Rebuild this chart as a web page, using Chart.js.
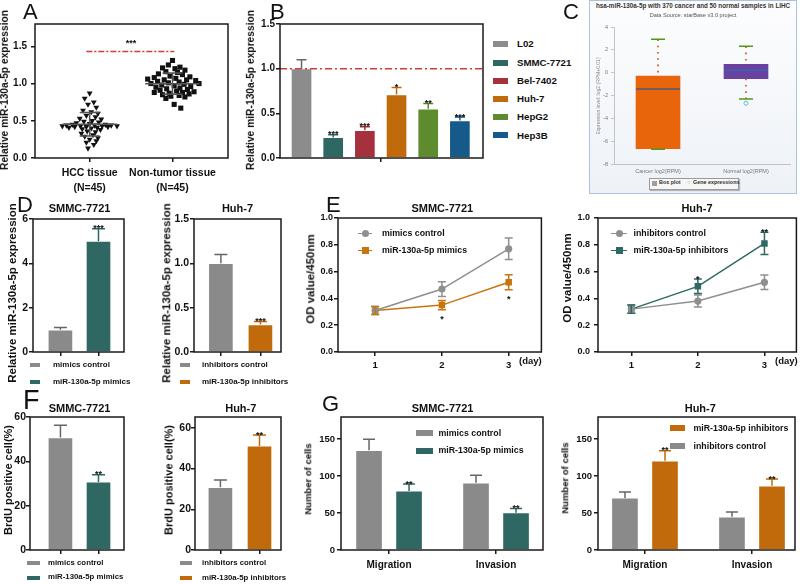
<!DOCTYPE html>
<html lang="en">
<head>
<meta charset="UTF-8">
<title>miR-130a-5p figure</title>
<script src="https://cdn.jsdelivr.net/npm/chart.js"></script>
<style>
    body {
        margin: 0;
        width: 800px;
        height: 584px;
        position: relative;
        overflow: hidden;
        background: #fff;
        font-family: 'Liberation Sans', Arial, sans-serif;
        font-weight: bold;
        color: #111;
    }
    canvas { position: absolute; }
    .t { position: absolute; white-space: nowrap; line-height: 1; }
    .sw { position: absolute; }
    .cbox {
        position: absolute; left: 589px; top: 0; width: 206px; height: 192px;
        border: 1.5px solid #a9c3de;
        background: linear-gradient(#fdfdfe, #eef2f7);
    }
    .ckey {
        position: absolute; left: 649px; top: 178px; width: 88px; height: 10px;
        border: 1px solid #9a9a9a; background: #f6f6f6; box-shadow: 1px 1px 1px #b5b5b5;
    }
</style>
</head>
<body>
<div class="cbox"></div>
<div class="ckey"></div>

<script>
// ---- A: individual tissue samples (45 each) ----
const hccValues = [0.87, 0.80, 0.75, 0.72, 0.68, 0.64, 0.62, 0.60, 0.57, 0.55, 0.53, 0.52, 0.50, 0.49, 0.48,
    0.47, 0.46, 0.45, 0.45, 0.44, 0.44, 0.44, 0.43, 0.43, 0.43, 0.43, 0.42, 0.42, 0.42, 0.41,
    0.41, 0.40, 0.39, 0.38, 0.36, 0.35, 0.33, 0.31, 0.29, 0.27, 0.25, 0.23, 0.21, 0.18, 0.13];
const hccJitter = [0, -0.06, 0.05, -0.02, 0.08, -0.08, 0.02, 0.10, -0.04, 0.07, -0.12, 0.14, 0.03, -0.07, 0.11,
    -0.16, 0, 0.19, -0.21, 0.06, -0.28, 0.26, -0.11, 0.15, -0.33, 0.33, -0.04, 0.22, -0.18, 0.09,
    -0.25, 0.02, -0.09, 0.13, -0.03, 0.07, -0.10, 0.04, -0.06, 0.10, 0, 0.08, -0.04, 0.05, -0.02];
const normalValues = [1.31, 1.25, 1.22, 1.21, 1.20, 1.18, 1.16, 1.15, 1.13, 1.12, 1.10, 1.09, 1.08, 1.07, 1.06,
    1.05, 1.05, 1.04, 1.03, 1.02, 1.01, 1.00, 1.00, 0.99, 0.98, 0.97, 0.96, 0.95, 0.94, 0.93,
    0.92, 0.91, 0.90, 0.89, 0.88, 0.88, 0.87, 0.86, 0.85, 0.84, 0.83, 0.82, 0.80, 0.72, 0.67];
const normalJitter = [0, -0.05, 0.09, -0.12, 0.03, 0.15, -0.08, 0.06, -0.17, 0.12, -0.03, 0.21, -0.22, 0.04, -0.30,
    0.17, -0.10, 0.28, -0.18, 0.08, -0.05, 0.32, -0.26, 0.14, -0.13, 0.02, 0.22, -0.20, 0.09, -0.07,
    0.18, -0.15, 0.05, 0.26, -0.22, 0.12, -0.04, 0.20, -0.12, 0.08, -0.02, 0.15, -0.08, 0.02, 0.10];
const tissueLabels = [['HCC tissue', '(N=45)'], ['Non-tumor tissue', '(N=45)']];
const tissueSigLevel = 1.43;

// ---- B: cell lines ----
const cellLines = ['L02', 'SMMC-7721', 'Bel-7402', 'Huh-7', 'HepG2', 'Hep3B'];
const cellExpr = [1.00, 0.23, 0.31, 0.71, 0.55, 0.42];
const cellErr = [0.10, 0.03, 0.04, 0.08, 0.06, 0.04];
const cellStars = ['', '***', '***', '*', '**', '***'];
const cellColors = ['#8c8c8c', '#2f6763', '#a7303d', '#c06a0c', '#5e8b2d', '#155a88'];

// ---- C: starBase box plot ----
const boxGroups = ['Cancer log2(RPM)', 'Normal log2(RPM)'];
const boxLow = [-6.70, -2.30];
const boxQ1 = [-6.66, -0.53];
const boxMid = [-1.43, 0.21];
const boxQ3 = [-0.29, 0.73];
const boxHigh = [2.92, 2.31];
const boxOutlier = [null, -2.68];
const boxColors = ['#e8650c', '#6a40a0'];
const boxMidColors = ['#4d5a78', '#2c6aa8'];
const boxTicks = [4, 2, 0, -2, -4, -6, -8];

// ---- D: qPCR after transfection ----
const mimicGroups = ['mimics control', 'miR-130a-5p mimics'];
const mimicExpr = [1.00, 5.00];
const mimicExprErr = [0.11, 0.56];
const inhibGroups = ['inhibitors control', 'miR-130a-5p inhibitors'];
const inhibExpr = [1.00, 0.31];
const inhibExprErr = [0.10, 0.035];

// ---- E: CCK-8 ----
const days = [1, 2, 3];
const odMimicCtrl = [0.31, 0.47, 0.77];
const odMimicCtrlErr = [0.03, 0.055, 0.08];
const odMimic = [0.31, 0.35, 0.52];
const odMimicErr = [0.03, 0.035, 0.056];
const odMimicStars = ['', '*', '*'];
const odInhibCtrl = [0.32, 0.38, 0.52];
const odInhibCtrlErr = [0.03, 0.045, 0.054];
const odInhib = [0.32, 0.49, 0.81];
const odInhibErr = [0.03, 0.054, 0.083];
const odInhibStars = ['', '*', '**'];

// ---- F: BrdU ----
const brduMimic = [50.7, 30.7];
const brduMimicErr = [5.6, 3.3];
const brduInhib = [30.8, 51.1];
const brduInhibErr = [3.6, 5.4];

// ---- G: transwell ----
const assays = ['Migration', 'Invasion'];
const cellsMimicCtrl = [135, 91];
const cellsMimicCtrlErr = [15, 10];
const cellsMimic = [80, 50.5];
const cellsMimicErr = [9.4, 5.8];
const cellsInhibCtrl = [70.5, 45];
const cellsInhibCtrlErr = [8, 6.4];
const cellsInhib = [120.7, 87];
const cellsInhibErr = [13.5, 9];
const cellsStars = ['**', '**'];

const GRAY = '#8a8a8a', GRAY_ERR = '#666', TEAL = '#2f6763', ORANGE = '#c06a0c';
const LINE_GRAY = '#8f8f8f', LINE_ORANGE = '#c8740f', LINE_TEAL = '#2e6a64';
const INK = '#1a1a1a';
const FAM = "'Liberation Sans', Arial, sans-serif";
const Y_EXPR = 'Relative miR-130a-5p expression';

Chart.defaults.font.family = FAM;
Chart.defaults.font.weight = 'bold';
Chart.defaults.color = '#111';
Chart.defaults.animation = false;
Chart.defaults.responsive = false;
Chart.defaults.devicePixelRatio = 1;
Chart.defaults.plugins.legend.display = false;
Chart.defaults.plugins.tooltip.enabled = false;

// box around the plot area, like Prism
const frame = {
    id: 'frame',
    afterDraw(chart) {
        const a = chart.chartArea, ctx = chart.ctx;
        ctx.save();
        ctx.strokeStyle = INK;
        ctx.lineWidth = 1.5;
        ctx.strokeRect(a.left, a.top, a.right - a.left, a.bottom - a.top);
        ctx.restore();
    }
};

// error bars + significance stars, read from dataset.err / dataset.stars
const errorBars = {
    id: 'errorBars',
    afterDatasetsDraw(chart) {
        const ctx = chart.ctx, ys = chart.scales.y;
        chart.data.datasets.forEach((ds, di) => {
            if (!ds.err) return;
            const meta = chart.getDatasetMeta(di);
            meta.data.forEach((el, i) => {
                const d = ds.data[i];
                const v = typeof d === 'object' ? d.y : d;
                const e = ds.err[i];
                const x = el.x;
                const top = ys.getPixelForValue(v + e);
                const bot = ds.errBoth ? ys.getPixelForValue(v - e) : ys.getPixelForValue(v);
                const cap = ds.cap;
                ctx.save();
                ctx.strokeStyle = Array.isArray(ds.errColor) ? ds.errColor[i] : ds.errColor;
                ctx.lineWidth = 1.5;
                ctx.beginPath();
                ctx.moveTo(x, bot); ctx.lineTo(x, top);
                ctx.moveTo(x - cap / 2, top); ctx.lineTo(x + cap / 2, top);
                if (ds.errBoth) { ctx.moveTo(x - cap / 2, bot); ctx.lineTo(x + cap / 2, bot); }
                ctx.stroke();
                const s = ds.stars && ds.stars[i];
                if (s) {
                    const fs = ds.starSize || 9;
                    ctx.fillStyle = '#111';
                    ctx.font = 'bold ' + fs + 'px ' + FAM;
                    ctx.textAlign = 'center';
                    ctx.textBaseline = 'alphabetic';
                    if (ds.starsBelow) ctx.fillText(s, x, bot + 5 + fs * 0.75);
                    else ctx.fillText(s, x, top - 1 + fs * 0.4);
                }
                ctx.restore();
            });
        });
    }
};

// mean and SD lines for the scatter in A
const meanSd = {
    id: 'meanSd',
    afterDatasetsDraw(chart) {
        const ctx = chart.ctx, xs = chart.scales.x, ys = chart.scales.y;
        chart.data.datasets.forEach(ds => {
            if (!ds.center) return;
            const vals = ds.data.map(p => p.y);
            const mean = vals.reduce((a, b) => a + b, 0) / vals.length;
            const sd = Math.sqrt(vals.reduce((a, b) => a + (b - mean) ** 2, 0) / (vals.length - 1));
            const cx = ds.center;
            const hl = (lo, hi, v) => {
                ctx.moveTo(xs.getPixelForValue(cx + lo), ys.getPixelForValue(v));
                ctx.lineTo(xs.getPixelForValue(cx + hi), ys.getPixelForValue(v));
            };
            ctx.save();
            ctx.strokeStyle = '#555';
            ctx.lineWidth = 1.5;
            ctx.beginPath();
            hl(-0.33, 0.33, mean);
            hl(-0.12, 0.12, mean + sd);
            hl(-0.12, 0.12, mean - sd);
            ctx.moveTo(xs.getPixelForValue(cx), ys.getPixelForValue(mean + sd));
            ctx.lineTo(xs.getPixelForValue(cx), ys.getPixelForValue(mean - sd));
            ctx.stroke();
            ctx.restore();
        });
        const notes = chart.options.plugins.meanSd.notes || [];
        notes.forEach(n => {
            ctx.save();
            ctx.fillStyle = '#111';
            ctx.font = 'bold 9px ' + FAM;
            ctx.textAlign = 'center';
            ctx.fillText(n.text, xs.getPixelForValue(n.x), ys.getPixelForValue(n.y));
            ctx.restore();
        });
    }
};

// whiskers, dotted stems and medians for C
const boxDetail = {
    id: 'boxDetail',
    afterDatasetsDraw(chart) {
        const ctx = chart.ctx, ys = chart.scales.y;
        const meta = chart.getDatasetMeta(0);
        meta.data.forEach((bar, i) => {
            const x = bar.x, half = bar.width / 2;
            ctx.save();
            ctx.strokeStyle = '#c9552a';
            ctx.lineWidth = 1.7;
            ctx.setLineDash([1.6, 4.7]);
            ctx.beginPath();
            ctx.moveTo(x, ys.getPixelForValue(boxHigh[i]));
            ctx.lineTo(x, ys.getPixelForValue(boxQ3[i]));
            ctx.moveTo(x, ys.getPixelForValue(boxQ1[i]));
            ctx.lineTo(x, ys.getPixelForValue(boxLow[i]));
            ctx.stroke();
            ctx.setLineDash([]);
            ctx.strokeStyle = '#4f9a14';
            ctx.lineWidth = 1.5;
            ctx.beginPath();
            [boxHigh[i], boxLow[i]].forEach(v => {
                ctx.moveTo(x - 7, ys.getPixelForValue(v));
                ctx.lineTo(x + 7, ys.getPixelForValue(v));
            });
            ctx.stroke();
            ctx.strokeStyle = boxMidColors[i];
            ctx.beginPath();
            ctx.moveTo(x - half, ys.getPixelForValue(boxMid[i]));
            ctx.lineTo(x + half, ys.getPixelForValue(boxMid[i]));
            ctx.stroke();
            ctx.restore();
        });
    }
};

function yAxis(min, max, ticks, size, pad, fmt) {
    return {
        type: 'linear', min, max,
        afterBuildTicks: s => { s.ticks = ticks.map(v => ({ value: v })); },
        ticks: { font: { size }, padding: pad, callback: fmt || (v => v) },
        grid: { drawOnChartArea: false, tickLength: 4, color: INK, lineWidth: 1.5 },
        border: { display: false }
    };
}

function xAxis(min, max, ticks, labels, size, pad) {
    return {
        type: 'linear', min, max, offset: false,
        afterBuildTicks: s => { s.ticks = ticks.map(v => ({ value: v })); },
        ticks: { font: { size, lineHeight: 1.4 }, padding: pad, maxRotation: 0, autoSkip: false,
            callback: (v, i) => labels ? labels[i] : '' },
        grid: { offset: false, drawOnChartArea: false, tickLength: 4, color: INK, lineWidth: 1.5 },
        border: { display: false }
    };
}

// put a chart so that its plot area lands on `area` (page pixels)
function mount(area, padB, config, plugins) {
    const padL = 40, padT = 12, padR = 3;
    const w = area.r - area.l + padL + padR;
    const h = area.b - area.t + padT + padB;
    const c = document.createElement('canvas');
    c.width = w; c.height = h;
    c.style.left = (area.l - padL) + 'px';
    c.style.top = (area.t - padT) + 'px';
    c.style.width = w + 'px';
    c.style.height = h + 'px';
    document.body.appendChild(c);
    config.options.layout = { padding: { top: padT, right: padR, left: 0, bottom: 0 } };
    config.options.scales.x.afterFit = s => { s.height = padB; };
    config.options.scales.y.afterFit = s => { s.width = padL; };
    config.plugins = plugins || [frame, errorBars];
    return new Chart(c, config);
}

function text(str, x, base, size, opts = {}) {
    const d = document.createElement('div');
    d.className = 't';
    d.textContent = str;
    d.style.fontSize = size + 'px';
    d.style.left = x + 'px';
    d.style.top = (base - 0.8465 * size) + 'px';
    if (opts.center) d.style.transform = 'translateX(-50%)';
    if (opts.weight) d.style.fontWeight = opts.weight;
    if (opts.color) d.style.color = opts.color;
    document.body.appendChild(d);
}

// rotated axis title, centred on (cx, cy)
function yTitle(str, cx, cy, size, opts = {}) {
    const d = document.createElement('div');
    d.className = 't';
    d.textContent = str;
    d.style.fontSize = size + 'px';
    d.style.left = cx + 'px';
    d.style.top = cy + 'px';
    d.style.transform = 'translate(-50%, -50%) rotate(-90deg)';
    if (opts.weight) d.style.fontWeight = opts.weight;
    if (opts.color) d.style.color = opts.color;
    document.body.appendChild(d);
}

function swatch(x, cy, w, h, color) {
    const d = document.createElement('div');
    d.className = 'sw';
    Object.assign(d.style, { left: x + 'px', top: (cy - h / 2) + 'px', width: w + 'px', height: h + 'px', background: color });
    document.body.appendChild(d);
}

function lineKey(x1, x2, cy, color, square) {
    swatch(x1, cy, x2 - x1, 1.5, color);
    const m = document.createElement('div');
    m.className = 'sw';
    Object.assign(m.style, { left: ((x1 + x2) / 2 - 3.5) + 'px', top: (cy - 3.5) + 'px', width: '7px', height: '7px',
        background: color, borderRadius: square ? '0' : '50%' });
    document.body.appendChild(m);
}

const one = v => v.toFixed(1);

// ---------- A ----------
mount({ l: 35, t: 24, r: 229, b: 158 }, 42, {
    type: 'scatter',
    data: {
        datasets: [
            { type: 'line', data: [{ x: 0.96, y: tissueSigLevel }, { x: 2.02, y: tissueSigLevel }],
              borderColor: '#d33a3a', borderWidth: 1.5, borderDash: [6, 2, 2, 2], pointRadius: 0 },
            { data: hccValues.map((v, i) => ({ x: 1 + hccJitter[i], y: v })), center: 1,
              pointStyle: 'triangle', pointRotation: 180, pointRadius: 3.4, backgroundColor: '#111', borderColor: '#111', borderWidth: 0 },
            { data: normalValues.map((v, i) => ({ x: 2 + normalJitter[i], y: v })), center: 2,
              pointStyle: 'rect', pointRadius: 3.6, backgroundColor: '#111', borderColor: '#111', borderWidth: 0 }
        ]
    },
    options: {
        plugins: { meanSd: { notes: [{ x: 1.5, y: 1.5, text: '***' }] } },
        scales: {
            x: xAxis(0.34, 2.67, [1, 2], tissueLabels, 10.5, 4),
            y: yAxis(0, 1.8, [0, 0.5, 1, 1.5], 10, 4, one)
        }
    }
}, [frame, meanSd]);
yTitle(Y_EXPR, 5, 90, 10.25);

// ---------- B ----------
mount({ l: 280, t: 24, r: 483, b: 158 }, 20, {
    type: 'bar',
    data: {
        datasets: [
            { type: 'line', order: 0, data: [{ x: 0.32, y: 1 }, { x: 6.73, y: 1 }],
              borderColor: '#d33a3a', borderWidth: 1.5, borderDash: [7, 3, 2, 3], pointRadius: 0 },
            { order: 1, data: cellLines.map((c, i) => ({ x: i + 1, y: cellExpr[i] })),
              backgroundColor: cellColors, borderColor: 'rgba(255,255,255,0.35)', borderWidth: 1,
              barThickness: 21, grouped: false, err: cellErr, cap: 10,
              errColor: cellColors.map(c => c === '#8c8c8c' ? GRAY_ERR : c), stars: cellStars }
        ]
    },
    options: {
        scales: {
            x: xAxis(0.32, 6.73, [3.5], null, 10, 3),
            y: yAxis(0, 1.5, [0, 0.5, 1, 1.5], 10, 1, one)
        }
    }
});
yTitle(Y_EXPR, 251, 90, 10.25);
[44, 62.5, 80.7, 99, 117, 135.3].forEach((cy, i) => {
    swatch(493, cy, 15, 6, cellColors[i]);
    text(cellLines[i], 517, cy + 3.5, 9.7);
});

// ---------- C ----------
mount({ l: 614, t: 27, r: 792, b: 164 }, 14, {
    type: 'bar',
    data: {
        labels: boxGroups,
        datasets: [
            { data: boxGroups.map((g, i) => [boxQ1[i], boxQ3[i]]), backgroundColor: boxColors, borderWidth: 0, barThickness: 44 },
            { type: 'line', data: boxOutlier, showLine: false, pointRadius: 2, pointBorderWidth: 1,
              pointBorderColor: '#55bfd2', pointBackgroundColor: 'rgba(0,0,0,0)' }
        ]
    },
    options: {
        scales: {
            x: { type: 'category', offset: true,
                 grid: { display: true, drawOnChartArea: false, drawTicks: false },
                 border: { color: '#c4c4c4' },
                 ticks: { font: { size: 5.5, weight: 'normal' }, color: '#777', padding: 4 } },
            y: { type: 'linear', min: -8, max: 4,
                 afterBuildTicks: s => { s.ticks = boxTicks.map(v => ({ value: v })); },
                 grid: { drawOnChartArea: false, tickLength: 3, color: '#c4c4c4' },
                 border: { color: '#c4c4c4' },
                 ticks: { font: { size: 5.5, weight: 'normal' }, color: '#777', padding: 3 } }
        }
    }
}, [boxDetail]);
yTitle('Expression level: log2 (RPM+0.01)', 598, 96, 5, { weight: 'normal', color: '#888' });
text('hsa-miR-130a-5p with 370 cancer and 50 normal samples in LIHC', 693, 8.5, 6.3, { center: true, color: '#333' });
text('Data Source: starBase v3.0 project', 693, 18, 5.6, { center: true, weight: 'normal', color: '#555' });
swatch(651.5, 183, 5, 5, '#9e9e9e');
text('Box plot', 659, 185, 5.4, { color: '#333' });
text('\u25CB', 687, 185, 5.4, { color: '#55bfd2' });
text('Gene expressions', 693, 185, 5.4, { color: '#333' });

// ---------- D ----------
mount({ l: 33, t: 219, r: 124, b: 352 }, 10, {
    type: 'bar',
    data: {
        datasets: [{ data: mimicGroups.map((g, i) => ({ x: i + 1, y: mimicExpr[i] })),
            backgroundColor: [GRAY, TEAL], borderColor: 'rgba(255,255,255,0.4)', borderWidth: 1,
            barThickness: 25, grouped: false, err: mimicExprErr, cap: 13, errColor: [GRAY_ERR, TEAL], stars: ['', '***'] }]
    },
    options: {
        scales: {
            x: xAxis(0.28, 2.67, [1, 2], null, 10, 3),
            y: yAxis(0, 6, [0, 2, 4, 6], 10.5, 1)
        }
    }
});
mount({ l: 194, t: 219, r: 281, b: 352 }, 10, {
    type: 'bar',
    data: {
        datasets: [{ data: inhibGroups.map((g, i) => ({ x: i + 1, y: inhibExpr[i] })),
            backgroundColor: [GRAY, ORANGE], borderColor: 'rgba(255,255,255,0.4)', borderWidth: 1,
            barThickness: 25, grouped: false, err: inhibExprErr, cap: 13, errColor: [GRAY_ERR, ORANGE], stars: ['', '***'] }]
    },
    options: {
        scales: {
            x: xAxis(0.32, 2.52, [1, 2], null, 10, 3),
            y: yAxis(0, 1.5, [0, 0.5, 1, 1.5], 10.5, 1, one)
        }
    }
});
yTitle(Y_EXPR, 12.8, 292.5, 11.5);
yTitle(Y_EXPR, 167, 292.5, 11.5);
text('SMMC-7721', 79.5, 212.2, 11, { center: true });
text('Huh-7', 237.5, 212.2, 11, { center: true });
swatch(30, 365, 10, 4, GRAY);     text(mimicGroups[0], 53, 367.8, 8);
swatch(30, 382, 10, 4, TEAL);     text(mimicGroups[1], 53, 384.8, 8);
swatch(180, 365, 10, 4, GRAY);    text(inhibGroups[0], 202, 367.8, 8);
swatch(180, 382, 10, 4, ORANGE);  text(inhibGroups[1], 202, 384.8, 8);

// ---------- E ----------
function odSet(vals, errs, color, square, stars, below) {
    return { data: days.map((d, i) => ({ x: d, y: vals[i] })), borderColor: color, backgroundColor: color,
        borderWidth: 1.5, pointStyle: square ? 'rect' : 'circle', pointRadius: square ? 4.6 : 3.6,
        pointBorderWidth: 0, err: errs, errBoth: true, cap: 8, errColor: color, stars, starsBelow: below };
}
mount({ l: 338, t: 218, r: 543, b: 352 }, 24, {
    type: 'line',
    data: { datasets: [odSet(odMimicCtrl, odMimicCtrlErr, LINE_GRAY, false), odSet(odMimic, odMimicErr, LINE_ORANGE, true, odMimicStars, true)] },
    options: {
        scales: {
            x: xAxis(0.443, 3.49, days, days.map(String), 9.5, 3),
            y: yAxis(0, 1, [0, 0.2, 0.4, 0.6, 0.8, 1], 9, 1, one)
        }
    }
});
mount({ l: 598, t: 218, r: 798, b: 352 }, 24, {
    type: 'line',
    data: { datasets: [odSet(odInhibCtrl, odInhibCtrlErr, LINE_GRAY, false), odSet(odInhib, odInhibErr, LINE_TEAL, true, odInhibStars, false)] },
    options: {
        scales: {
            x: xAxis(0.50, 3.48, days, days.map(String), 9.5, 3),
            y: yAxis(0, 1, [0, 0.2, 0.4, 0.6, 0.8, 1], 9, 4, one)
        }
    }
});
yTitle('OD value/450nm', 311, 279, 11.5);
yTitle('OD value/450nm', 567.5, 278, 11.5);
text('SMMC-7721', 442.3, 212.2, 11, { center: true });
text('Huh-7', 697, 212.2, 11, { center: true });
text('(day)', 519, 364, 9.5);
text('(day)', 775, 364, 9.5);
lineKey(358, 372, 233.3, LINE_GRAY, false);   text('mimics control', 382, 236.3, 8.8);
lineKey(358, 372, 250.7, LINE_ORANGE, true);  text('miR-130a-5p mimics', 382, 253.7, 8.8);
lineKey(611, 627, 233.3, LINE_GRAY, false);   text('inhibitors control', 633.5, 236.3, 8.8);
lineKey(611, 627, 250.7, LINE_TEAL, true);    text('miR-130a-5p inhibitors', 633.5, 253.7, 8.8);

// ---------- F ----------
mount({ l: 30, t: 417, r: 124, b: 550 }, 8, {
    type: 'bar',
    data: {
        datasets: [{ data: mimicGroups.map((g, i) => ({ x: i + 1, y: brduMimic[i] })),
            backgroundColor: [GRAY, TEAL], borderColor: 'rgba(255,255,255,0.4)', borderWidth: 1,
            barThickness: 25, grouped: false, err: brduMimicErr, cap: 13, errColor: [GRAY_ERR, TEAL], stars: ['', '**'] }]
    },
    options: {
        scales: {
            x: xAxis(0.2, 2.67, [1, 2], null, 10, 3),
            y: yAxis(0, 60, [0, 20, 40, 60], 10.5, 0)
        }
    }
});
mount({ l: 195, t: 417, r: 281, b: 550 }, 8, {
    type: 'bar',
    data: {
        datasets: [{ data: inhibGroups.map((g, i) => ({ x: i + 1, y: brduInhib[i] })),
            backgroundColor: [GRAY, ORANGE], borderColor: 'rgba(255,255,255,0.4)', borderWidth: 1,
            barThickness: 25, grouped: false, err: brduInhibErr, cap: 13, errColor: [GRAY_ERR, ORANGE], stars: ['', '**'] }]
    },
    options: {
        scales: {
            x: xAxis(0.35, 2.55, [1, 2], null, 10, 3),
            y: yAxis(0, 65.3, [0, 20, 40, 60], 10.5, 0)
        }
    }
});
yTitle('BrdU positive cell(%)', 8, 480, 11);
yTitle('BrdU positive cell(%)', 169, 480, 11);
text('SMMC-7721', 79.5, 412.2, 11, { center: true });
text('Huh-7', 240.8, 412.2, 11, { center: true });
swatch(27, 563, 13, 4, GRAY);     text(mimicGroups[0], 48, 565.6, 7.8);
swatch(27, 577.5, 13, 4, TEAL);   text(mimicGroups[1], 48, 580.1, 7.8);
swatch(180, 563, 12, 4, GRAY);    text(inhibGroups[0], 202, 565.6, 7.8);
swatch(180, 578, 12, 4, ORANGE);  text(inhibGroups[1], 202, 580.6, 7.8);

// ---------- G ----------
function cellSet(vals, errs, color, errColor, shift, stars) {
    return { data: assays.map((a, i) => ({ x: i + 1 + shift, y: vals[i] })), backgroundColor: color,
        borderColor: 'rgba(255,255,255,0.4)', borderWidth: 1, barThickness: 27, grouped: false,
        err: errs, cap: 12, errColor, stars };
}
mount({ l: 341, t: 417, r: 543, b: 550 }, 24, {
    type: 'bar',
    data: { datasets: [cellSet(cellsMimicCtrl, cellsMimicCtrlErr, GRAY, GRAY_ERR, -0.187),
                       cellSet(cellsMimic, cellsMimicErr, TEAL, TEAL, 0.187, cellsStars)] },
    options: {
        scales: {
            x: xAxis(0.551, 2.439, [1, 2], assays, 10, 4),
            y: yAxis(0, 180, [0, 50, 100, 150], 9.5, 2)
        }
    }
});
mount({ l: 598, t: 417, r: 795, b: 550 }, 24, {
    type: 'bar',
    data: { datasets: [cellSet(cellsInhibCtrl, cellsInhibCtrlErr, GRAY, GRAY_ERR, -0.187),
                       cellSet(cellsInhib, cellsInhibErr, ORANGE, ORANGE, 0.187, cellsStars)] },
    options: {
        scales: {
            x: xAxis(0.561, 2.402, [1, 2], assays, 10, 4),
            y: yAxis(0, 180, [0, 50, 100, 150], 9.5, 2)
        }
    }
});
yTitle('Number of cells', 307.5, 479, 9.5);
yTitle('Number of cells', 565, 478, 9.5);
text('SMMC-7721', 442.5, 412.2, 11, { center: true });
text('Huh-7', 700.3, 412.2, 11, { center: true });
swatch(416, 433, 17, 6, GRAY);      text('mimics control', 438.5, 436.1, 8.8);
swatch(416, 450.7, 17, 6, TEAL);    text('miR-130a-5p mimics', 438.5, 453.8, 8.8);
swatch(670, 428.3, 15, 6, ORANGE);  text('miR-130a-5p inhibitors', 693.5, 431.4, 8.8);
swatch(670, 446, 15, 6, GRAY);      text('inhibitors control', 693.5, 449.1, 8.8);

// ---------- panel letters ----------
[['A', 23, 20, 22], ['B', 270, 19.5, 22], ['C', 563, 19.5, 22], ['D', 17, 213, 22], ['E', 326, 213, 22],
 ['F', 23, 410, 27], ['G', 322, 412, 22]]
    .forEach(([s, x, y, size]) => text(s, x, y, size, { weight: 'normal' }));
</script>
</body>
</html>
